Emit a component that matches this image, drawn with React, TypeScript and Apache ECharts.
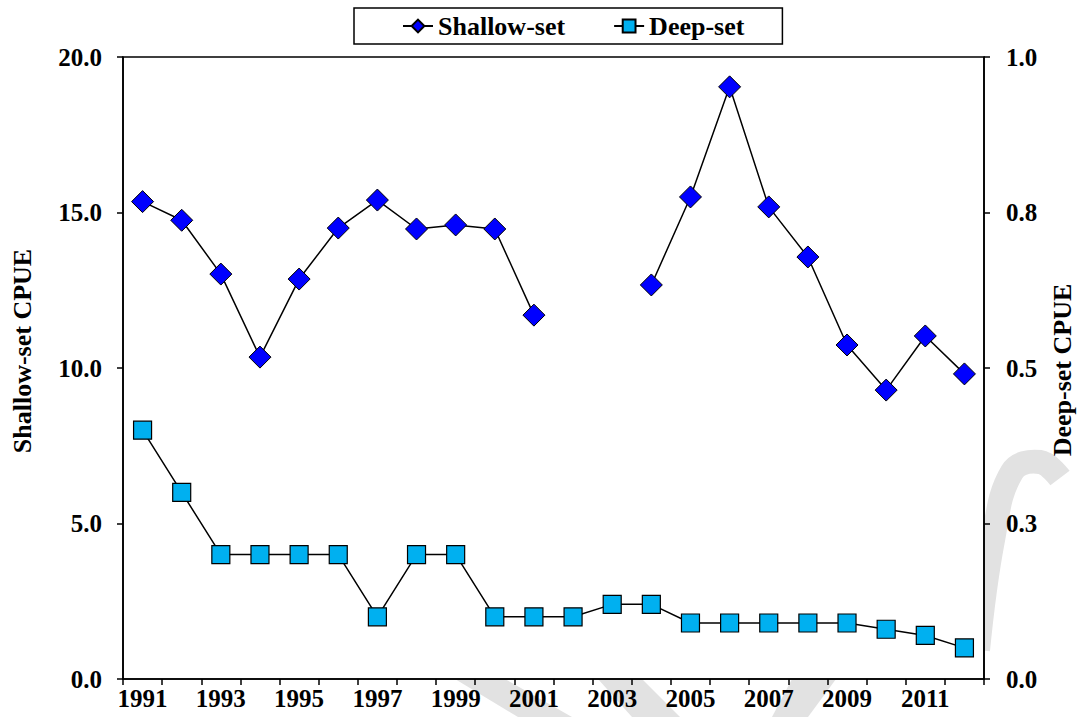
import React, { useEffect, useRef } from "react";
import * as echarts from "echarts";

const years = [
  "1991", "1992", "1993", "1994", "1995", "1996", "1997", "1998", "1999", "2000", "2001",
  "2002", "2003", "2004", "2005", "2006", "2007", "2008", "2009", "2010", "2011", "2012",
];
const shallowSet = [
  15.35, 14.75, 13.02, 10.35, 12.86, 14.5, 15.4, 14.47, 14.6, 14.47, 11.7,
  null, null, 12.67, 15.5, 19.04, 15.18, 13.57, 10.74, 9.29, 11.03, 9.81,
];
const deepSet = [
  0.40, 0.30, 0.20, 0.20, 0.20, 0.20, 0.10, 0.20, 0.20, 0.10, 0.10,
  0.10, 0.12, 0.12, 0.09, 0.09, 0.09, 0.09, 0.09, 0.08, 0.07, 0.05,
];
const leftTitle = "Shallow-set CPUE";
const rightTitle = "Deep-set CPUE";

const FONT = "'Liberation Serif', 'Times New Roman', serif";
const WM = "#e2e2e2";

export default function App() {
  const ref = useRef<HTMLDivElement>(null);
  useEffect(() => {
    if (!ref.current) return;
    const chart = echarts.init(ref.current, null, { renderer: "svg" });
    const labelStyle = {
      color: "#000",
      fontFamily: FONT,
      fontWeight: "bold" as const,
      fontSize: 25,
    };
    const axisLine = { show: true, lineStyle: { color: "#000", width: 1.6 } };
    const axisTick = { show: true, inside: false, length: 6, lineStyle: { color: "#000", width: 1.5 } };
    chart.setOption({
      animation: false,
      backgroundColor: "#fff",
      grid: {
        left: 123,
        right: 94,
        top: 57,
        bottom: 38,
        show: true,
        borderColor: "#000",
        borderWidth: 1.6,
        backgroundColor: "transparent",
      },
      legend: {
        left: 354,
        top: 8,
        itemWidth: 30,
        itemHeight: 16,
        itemGap: 48,
        padding: [5, 38, 5, 48],
        borderColor: "#000",
        borderWidth: 1.5,
        backgroundColor: "#fff",
        textStyle: { ...labelStyle, fontSize: 26 },
        data: ["Shallow-set", "Deep-set"],
      },
      xAxis: {
        type: "category",
        data: years,
        boundaryGap: true,
        axisLine,
        axisTick: { ...axisTick, interval: 0, alignWithLabel: false },
        axisLabel: { ...labelStyle, interval: 1, margin: 7 },
        splitLine: { show: false },
      },
      yAxis: [
        {
          type: "value",
          min: 0,
          max: 20,
          interval: 5,
          axisLine,
          axisTick,
          splitLine: { show: false },
          axisLabel: { ...labelStyle, margin: 21, formatter: (v: number) => v.toFixed(1) },
        },
        {
          type: "value",
          position: "right",
          min: 0,
          max: 1,
          interval: 0.25,
          axisLine,
          axisTick,
          splitLine: { show: false },
          axisLabel: { ...labelStyle, margin: 22, formatter: (v: number) => v.toFixed(1) },
        },
      ],
      graphic: [
        // faint background watermark strokes (only visible outside the plot area)
        {
          type: "polygon",
          z: -20,
          silent: true,
          shape: { points: [[455, 679], [505, 679], [572, 717], [518, 717]] },
          style: { fill: WM },
        },
        {
          type: "polygon",
          z: -20,
          silent: true,
          shape: { points: [[598, 679], [642, 679], [680, 717], [632, 717]] },
          style: { fill: WM },
        },
        {
          type: "polygon",
          z: -20,
          silent: true,
          shape: { points: [[792, 679], [836, 679], [808, 717], [772, 717]] },
          style: { fill: WM },
        },
        {
          type: "polyline",
          z: -20,
          silent: true,
          shape: {
            points: [[978, 650], [993, 540], [1012, 472], [1040, 462], [1060, 478]],
            smooth: 0.4,
          },
          style: { stroke: WM, lineWidth: 24, fill: "none" },
        },
        {
          type: "rect",
          z: -10,
          silent: true,
          shape: { x: 123, y: 57, width: 861, height: 622 },
          style: { fill: "#fff" },
        },
        {
          type: "text",
          x: 22,
          y: 351,
          rotation: Math.PI / 2,
          style: {
            text: leftTitle,
            fill: "#000",
            font: `bold 26px ${FONT}`,
            textAlign: "center",
            textVerticalAlign: "middle",
          },
        },
        {
          type: "text",
          x: 1062,
          y: 370,
          rotation: Math.PI / 2,
          style: {
            text: rightTitle,
            fill: "#000",
            font: `bold 26px ${FONT}`,
            textAlign: "center",
            textVerticalAlign: "middle",
          },
        },
      ],
      series: [
        {
          name: "Shallow-set",
          type: "line",
          yAxisIndex: 0,
          data: shallowSet,
          connectNulls: false,
          symbol: "diamond",
          symbolSize: 22,
          showAllSymbol: true,
          lineStyle: { color: "#000", width: 1.5 },
          itemStyle: { color: "#0000FF", borderColor: "#000", borderWidth: 1 },
          z: 3,
        },
        {
          name: "Deep-set",
          type: "line",
          yAxisIndex: 1,
          data: deepSet,
          symbol: "rect",
          symbolSize: 18,
          showAllSymbol: true,
          lineStyle: { color: "#000", width: 1.5 },
          itemStyle: { color: "#00B0F0", borderColor: "#000", borderWidth: 1.2 },
          z: 2,
        },
      ],
    });
    return () => chart.dispose();
  }, []);
  return (
    <div
      ref={ref}
      style={{ position: "fixed", left: 0, top: 0, width: 1078, height: 717 }}
    />
  );
}
